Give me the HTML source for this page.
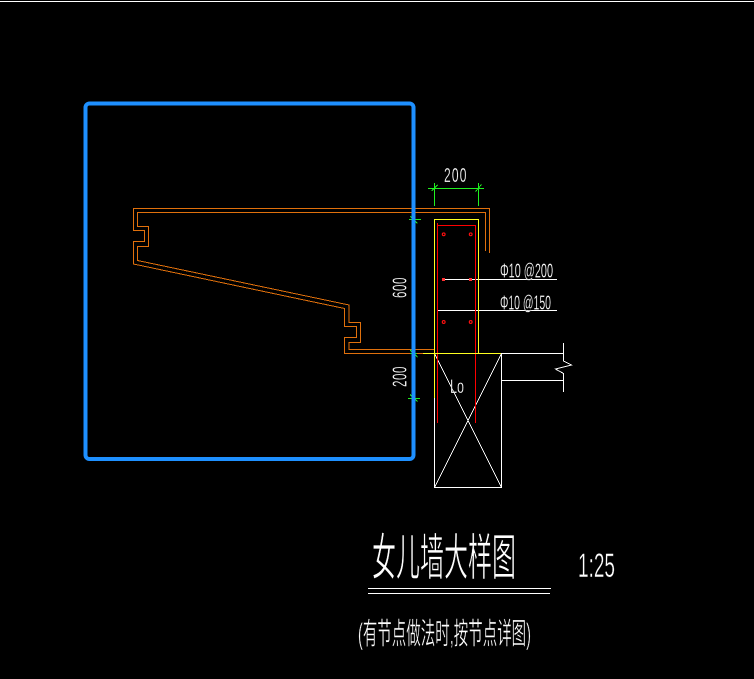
<!DOCTYPE html>
<html>
<head>
<meta charset="utf-8">
<style>
html,body{margin:0;padding:0;background:#000;width:754px;height:679px;overflow:hidden}
svg{display:block}
text{fill:#fff;font-family:"Liberation Sans","WenQuanYi Zen Hei","Noto Sans CJK SC",sans-serif}
.t{stroke:#000;stroke-width:.25px}
.c{stroke:#000;stroke-width:.8px}
.s{stroke:#000;stroke-width:.45px}
</style>
</head>
<body>
<svg width="754" height="679" viewBox="0 0 754 679" xmlns="http://www.w3.org/2000/svg">
<rect width="754" height="679" fill="#000"/>
<line x1="0" y1="1.5" x2="754" y2="1.5" stroke="#fff" stroke-width="1"/>

<!-- white structure -->
<g fill="none" stroke="#fff" stroke-width="1" shape-rendering="crispEdges">
<path d="M434.5 398V487.5H501.5V353.5H563.5"/>
<path d="M501.5 380.5H563.5"/>
<path d="M443 279.5H557"/>
<path d="M438 310.5H557"/>
<path d="M368 588.5H551"/>
<path d="M368 593.5H550"/>
<path d="M434.5 353.5L501.5 487.5M501.5 353.5L434.5 487.5"/>
<path d="M563.5 343V361L571.5 365L555.5 369L563.5 373.5V392"/>
</g>

<!-- orange outline -->
<g fill="none" stroke="#e0700c" stroke-width="1" shape-rendering="crispEdges">
<path d="M489.5 253V208.5H133.5V230.5H144.5V241.5H133.5V264L344.5 308.5V326.5H356.5V337.5H344.5V353.5H423"/>
<path d="M485.5 251V212.5H137.5V226.5H148.5V246.5H137.5V260.5L349 305V322.5H360.5V342.5H349V349.5H435"/>
</g>

<!-- red rebar -->
<g fill="none" stroke="#ff0000" stroke-width="1" shape-rendering="crispEdges">
<path d="M437.5 223V423"/>
<path d="M437.5 225.5H475.5V423"/>
</g>
<g fill="none" stroke="#ff1010" stroke-width="1.1">
<circle cx="443.7" cy="234.3" r="1.4"/>
<circle cx="470.7" cy="234.3" r="1.4"/>
<circle cx="443.7" cy="322" r="1.4"/>
<circle cx="470.7" cy="322" r="1.4"/>
</g>
<g fill="#ff3030">
<rect x="442" y="278" width="3" height="3"/>
<rect x="469" y="278" width="3" height="3"/>
</g>

<!-- yellow wall -->
<g fill="none" stroke="#ffff20" stroke-width="1" shape-rendering="crispEdges">
<path d="M434.5 398V219.5H478.5V353.5"/>
<path d="M423 353.5H501"/>
</g>

<!-- green dimensions -->
<g fill="none" stroke="#20f020" stroke-width="1" shape-rendering="crispEdges">
<path d="M428 188.5H484M434.5 183V206M478.5 183V206"/>
<path d="M431.5 191L437.5 185M475.5 191.5L481.5 184.5"/>
<path d="M409 219.5H421M408 398.5H420M410 353.5H417"/>
<path d="M410.5 216.5L417.5 223.5M410 350L417.5 357M410 394.5L417.5 401.5"/>
</g>

<!-- blue frame -->
<rect x="85.5" y="103.5" width="328" height="355.5" rx="4" ry="4" fill="none" stroke="#1e90ff" stroke-width="4"/>

<!-- dimension text -->
<text class="t" transform="translate(444,182) scale(.6,1)" font-size="20" letter-spacing="2">200</text>
<text class="t" transform="translate(406.5,298) rotate(-90) scale(.58,1)" font-size="20" letter-spacing="1">600</text>
<text class="t" transform="translate(406.5,387) rotate(-90) scale(.58,1)" font-size="20" letter-spacing="1">200</text>

<text class="t" x="500" y="277.5" font-size="20" textLength="53" lengthAdjust="spacingAndGlyphs">Φ10 @200</text>
<text class="t" x="500" y="309.5" font-size="20" textLength="51" lengthAdjust="spacingAndGlyphs">Φ10 @150</text>
<text class="t" x="450" y="393" font-size="19" textLength="14" lengthAdjust="spacingAndGlyphs">Lo</text>

<!-- title -->
<text class="c" x="372" y="575" font-size="50" textLength="144" lengthAdjust="spacingAndGlyphs">女儿墙大样图</text>
<text class="s" x="578" y="577" font-size="34" textLength="37" lengthAdjust="spacingAndGlyphs">1:25</text>
<text class="s" x="358" y="644" font-size="30" textLength="173" lengthAdjust="spacingAndGlyphs">(有节点做法时,按节点详图)</text>
</svg>
</body>
</html>
